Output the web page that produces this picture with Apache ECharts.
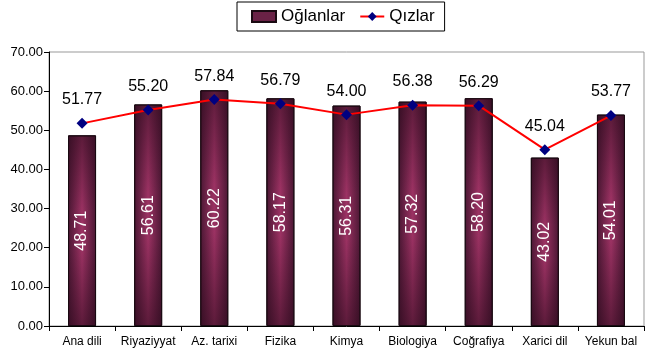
<!DOCTYPE html>
<html><head><meta charset="utf-8">
<script src="https://cdn.jsdelivr.net/npm/echarts@6/dist/echarts.min.js"></script>
<style>html,body{margin:0;padding:0;background:#fff}#c{width:650px;height:361px}</style>
</head><body><div id="c"></div>
<script>
const categories = ['Ana dili','Riyaziyyat','Az. tarixi','Fizika','Kimya','Biologiya','Coğrafiya','Xarici dil','Yekun bal'];
const boys = [48.71,56.61,60.22,58.17,56.31,57.32,58.20,43.02,54.01];
const girls = [51.77,55.20,57.84,56.79,54.00,56.38,56.29,45.04,53.77];
const seriesNames = ['Oğlanlar','Qızlar'];

const barGrad = new echarts.graphic.LinearGradient(0,0,1,0,[
  {offset:0,color:'#4a1733'},{offset:0.5,color:'#9c3263'},{offset:1,color:'#4a1733'}
]);
const shadeGrad = new echarts.graphic.LinearGradient(0,0,0,1,[
  {offset:0,color:'rgba(40,8,25,0.55)'},{offset:0.4,color:'rgba(40,8,25,0)'},
  {offset:0.6,color:'rgba(40,8,25,0)'},{offset:1,color:'rgba(40,8,25,0.55)'}
]);
const chart = echarts.init(document.getElementById('c'),null,{renderer:'canvas'});
chart.setOption({
  animation:false,
  textStyle:{fontFamily:'Liberation Sans, Arial, sans-serif'},
  legend:{
    left:237, top:2, width:210,
    borderColor:'#000', borderWidth:1, padding:[6,10,6,14],
    itemGap:14, itemWidth:24, itemHeight:11,
    textStyle:{fontSize:17,color:'#000',fontFamily:'Liberation Sans, Arial, sans-serif'},
    data:[{name:seriesNames[0],icon:'rect',itemStyle:{color:'#6a2246'}},{name:seriesNames[1]}]
  },
  grid:{left:49,right:6,top:52,bottom:35,show:true,borderColor:'#999',borderWidth:1},
  xAxis:{
    type:'category',data:categories,
    axisLine:{lineStyle:{color:'#000'}},
    axisTick:{show:true,alignWithLabel:false,length:5,lineStyle:{color:'#000'}},
    axisLabel:{color:'#000',fontSize:12,margin:10,interval:0}
  },
  yAxis:{
    type:'value',min:0,max:70,interval:10,
    axisLine:{show:true,lineStyle:{color:'#000'}},
    axisTick:{show:true,length:5,lineStyle:{color:'#000'}},
    splitLine:{show:false},
    axisLabel:{color:'#000',fontSize:13,margin:6,formatter:v=>v.toFixed(2)}
  },
  series:[
    {name:seriesNames[0],type:'bar',data:boys,barWidth:28,
     itemStyle:{color:barGrad,borderColor:'#1a0a12',borderWidth:1},
     label:{show:false}},
    {name:seriesNames[0],type:'bar',data:boys,barWidth:28,barGap:'-100%',z:3,
     itemStyle:{color:shadeGrad,borderColor:'#1a0a12',borderWidth:1},
     label:{show:true,position:'inside',rotate:90,color:'#fff',fontSize:16,
       formatter:p=>p.value.toFixed(2)}},
    {name:seriesNames[1],type:'line',data:girls,z:4,
     symbol:'diamond',symbolSize:11,
     lineStyle:{color:'#ff0000',width:2},
     itemStyle:{color:'#000080'},
     label:{show:true,position:'top',distance:10,color:'#000',fontSize:16,
       formatter:p=>p.value.toFixed(2)}}
  ]
});
</script></body></html>
